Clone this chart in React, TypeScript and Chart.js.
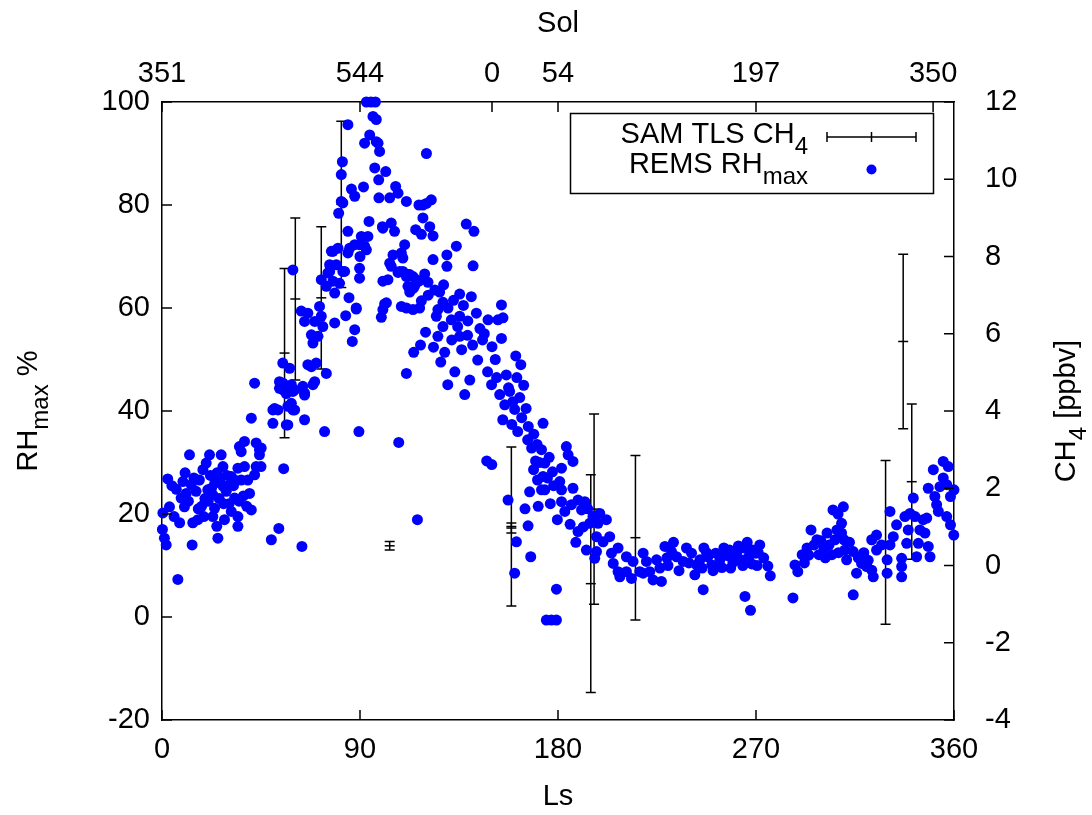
import React, { useEffect, useRef } from 'react';
import { Chart, registerables } from 'chart.js';

Chart.register(...registerables);

// ---------- DATA ----------
// Bottom axis: solar longitude Ls (deg)
const LS_TICKS = [0, 90, 180, 270, 360];
// Top axis: Sol numbers placed at given Ls
const SOL_TICK_LS = [0, 90, 150, 180, 270, 350.5];
const SOL_TICK_LABELS = ['351', '544', '0', '54', '197', '350'];

// SAM TLS CH4 (ppbv): Ls, value, error
const CH4_LS = [55.7, 60.6, 72.4, 81.5, 103.5, 158.8, 158.8, 194.9, 196.4, 215.2, 328.9, 336.9, 340.8];
const CH4_VAL = [5.5, 6.9, 6.93, 9.35, 0.51, 0.97, 1.01, -0.47, 1.46, 0.72, 0.6, 5.8, 2.17];
const CH4_ERR = [2.19, 2.1, 1.84, 2.15, 0.11, 0.13, 2.06, 2.82, 2.46, 2.13, 2.12, 2.26, 2.01];

// REMS RHmax (%) as [Ls, RH] pairs, by quarter of the Martian year
const REMS_Q1: [number, number][] = [
  [2.6, 26.8], [0.4, 20.2], [3.4, 21.4], [1.1, 15.3], [1.9, 14.0], [7.2, 7.3], [8.7, 23.1], [10.2, 21.4],
  [8.0, 18.3], [14.0, 18.3], [16.3, 18.9], [13.7, 14.0], [12.5, 31.5], [9.5, 26.3], [13.3, 25.7], [17.0, 26.6],
  [15.5, 24.4], [18.6, 28.6], [21.6, 31.5], [20.1, 29.9], [20.8, 24.7], [23.1, 23.7], [23.9, 21.1], [23.1, 19.5],
  [24.9, 17.6], [25.4, 15.3], [26.9, 31.5], [27.7, 29.2], [26.2, 26.6], [27.7, 25.4], [29.2, 24.4], [31.5, 27.3],
  [33.0, 23.1], [31.5, 20.5], [34.5, 19.5], [34.5, 17.6], [28.4, 18.9], [34.5, 28.9], [37.5, 29.2], [36.0, 26.6],
  [39.0, 26.6], [39.8, 24.0], [35.2, 33.1], [37.5, 34.1], [36.0, 32.1], [40.6, 20.8], [42.8, 33.8], [44.3, 32.5],
  [44.3, 31.5], [42.8, 29.2], [42.1, 27.6], [40.6, 38.6], [42.1, 45.4], [55.3, 28.8], [49.7, 15.0], [53.1, 17.2],
  [63.6, 13.7], [73.9, 36.0], [89.5, 36.0], [11.0, 24.0], [12.0, 22.5], [18.0, 21.5], [19.5, 23.0], [22.0, 27.5],
  [25.0, 28.0], [29.5, 27.5], [30.5, 22.0], [32.5, 25.5], [19.0, 19.5], [16.5, 21.0], [5.5, 19.5], [6.5, 24.8],
  [0.2, 17.0], [21.0, 22.5], [22.5, 25.0], [24.0, 26.0], [26.0, 23.0], [28.0, 22.0], [30.0, 25.5], [33.5, 26.5],
  [35.0, 22.5], [37.0, 23.5], [38.5, 21.5], [14.5, 27.0], [10.5, 28.0], [4.5, 25.5],
  [50.4, 40.2], [50.4, 37.6], [52.7, 40.2], [56.5, 37.3], [59.5, 40.2], [64.8, 38.3], [53.4, 44.4], [56.5, 43.4],
  [58.8, 41.5], [64.8, 43.1], [68.6, 45.1], [55.0, 45.4], [60.3, 44.1], [54.9, 49.3], [58.0, 48.3], [53.4, 45.7],
  [55.0, 44.1], [58.8, 45.1], [59.5, 43.8], [51.2, 40.5], [57.2, 40.9], [60.3, 40.2], [57.2, 37.3], [45.1, 32.8],
  [45.0, 29.2], [59.5, 67.4], [66.3, 49.0], [67.9, 48.6], [70.1, 49.3], [64.0, 44.8], [69.4, 45.7], [64.8, 43.5],
  [74.7, 47.3], [63.3, 59.4], [64.8, 57.4], [66.3, 59.0], [69.4, 57.4], [72.4, 58.4], [73.1, 56.4], [67.9, 54.8],
  [70.9, 54.5], [68.6, 53.2], [71.6, 60.3], [72.4, 65.5], [74.7, 64.2],
  [80.3, 78.4], [82.2, 80.4], [84.5, 74.9], [77.0, 71.0], [80.0, 71.6], [85.3, 71.6], [87.6, 72.3], [76.2, 68.4],
  [79.2, 68.4], [76.2, 67.1], [82.2, 67.1], [80.7, 64.8], [78.5, 62.9], [78.5, 57.1], [88.3, 59.8], [87.6, 55.8],
  [86.5, 53.5], [84.5, 95.6], [82.0, 88.4], [81.5, 85.9], [86.1, 83.1], [87.6, 81.7], [81.5, 80.7], [77.7, 71.0],
  [89.8, 72.3], [84.5, 70.7], [83.0, 67.1], [75.4, 66.8], [77.7, 65.2], [88.3, 60.0], [89.8, 67.7], [89.8, 65.8],
  [85.0, 62.0], [83.5, 58.5],
];

const REMS_Q2: [number, number][] = [
  [94.1, 76.8], [100.4, 75.5], [104.2, 76.5], [105.7, 74.9], [111.1, 80.7], [115.3, 75.2], [90.6, 73.9], [92.9, 71.3],
  [90.0, 70.0], [99.7, 58.2], [101.2, 60.8], [100.4, 65.2], [102.7, 65.5], [107.3, 66.9], [108.8, 60.3], [111.1, 60.0],
  [114.1, 59.7], [114.8, 64.2], [105.0, 70.3], [104.2, 68.1], [109.5, 69.7], [111.1, 66.1], [111.8, 64.2], [115.6, 65.5],
  [114.4, 51.4], [111.1, 47.3], [107.6, 33.9], [116.1, 18.9],
  [92.9, 100], [95.0, 100], [97.0, 100], [95.9, 97.2], [97.4, 96.6], [94.4, 93.6], [92.1, 92.0], [98.2, 92.0],
  [98.9, 90.4], [96.7, 87.2], [101.7, 86.5], [91.6, 83.5], [98.5, 84.9], [98.6, 81.4], [103.5, 81.4], [106.2, 83.6],
  [107.3, 82.3], [100.2, 75.8], [110.3, 72.3], [116.8, 80.0], [92.1, 72.0], [93.6, 73.9], [108.8, 70.7], [103.5, 68.7],
  [109.5, 67.1], [111.8, 66.5], [114.1, 66.1], [114.1, 63.8], [116.8, 65.2], [102.0, 61.0], [100.4, 59.7],
  [120.2, 90.0], [97.4, 92.3], [118.6, 80.0], [122.4, 81.0], [120.2, 80.3], [118.6, 77.5], [121.7, 75.8], [117.9, 74.3],
  [123.2, 74.0], [138.3, 76.3], [141.8, 74.9], [133.8, 72.0], [123.2, 69.4], [129.5, 70.3], [129.5, 68.1], [141.4, 68.2],
  [108.0, 67.1], [112.6, 66.5], [119.4, 66.6], [120.9, 65.0], [112.6, 63.1], [126.2, 63.1], [135.3, 62.7], [140.6, 62.2],
  [117.9, 61.4], [127.7, 61.1], [130.0, 60.0], [117.1, 60.0], [125.4, 59.7], [124.7, 58.4], [131.5, 57.7], [135.3, 58.4],
  [142.9, 59.0], [148.2, 57.7], [152.7, 57.7], [154.3, 60.6], [127.7, 56.4], [125.4, 54.5], [135.3, 54.5], [154.3, 54.1],
  [117.5, 52.8], [119.8, 55.3], [123.4, 52.4], [128.5, 51.4], [131.7, 53.8], [134.4, 56.4], [136.2, 51.9], [138.9, 54.7],
  [141.2, 52.8], [143.5, 49.9], [145.7, 53.8], [148.0, 47.6], [149.8, 45.1], [152.1, 46.5], [153.5, 43.2], [155.8, 41.2],
  [158.0, 43.8], [160.3, 40.3], [162.6, 42.6], [154.9, 38.3], [159.0, 37.4], [161.7, 36.0], [163.5, 38.7], [147.6, 30.3],
  [149.9, 29.6], [139.9, 46.0], [137.6, 43.2], [133.1, 47.6], [129.9, 45.1], [126.7, 49.5], [160.8, 50.7], [163.1, 49.0],
  [161.3, 46.5], [164.4, 45.0], [155.0, 58.1],
  [121.0, 62.5], [124.0, 63.5], [128.0, 64.5], [132.5, 61.5], [137.0, 60.5], [139.0, 57.5], [144.5, 56.0], [146.5, 55.0],
  [150.0, 52.5], [151.5, 50.0], [156.5, 47.0], [157.5, 44.5], [159.5, 41.8], [165.5, 40.5], [166.5, 37.0], [169.0, 35.5],
  [170.5, 33.5], [171.5, 30.0], [176.0, 31.0], [178.0, 25.5], [176.5, 22.0], [171.0, 21.5], [165.0, 21.0],
  [157.3, 22.7], [166.4, 17.7], [161.1, 14.6], [167.6, 11.7], [160.3, 8.5], [179.3, 5.4], [174.7, -0.6], [177.0, -0.6],
  [179.3, -0.6], [179.7, 18.9], [166.2, 34.4], [168.0, 32.8], [169.8, 30.3], [168.9, 28.6], [170.7, 26.6], [172.5, 24.7],
  [167.1, 24.3], [175.2, 27.0], [177.5, 28.2], [173.2, 37.6], [172.5, 32.5], [174.0, 29.9], [173.2, 27.3], [174.0, 24.7],
];

const REMS_Q3: [number, number][] = [
  [183.1, 20.5], [189.1, 16.6], [188.1, 14.5], [181.6, 22.4], [186.1, 21.8], [183.8, 33.1], [184.6, 31.5], [186.8, 30.2],
  [181.6, 28.9], [180.8, 26.3], [181.6, 24.7], [186.8, 25.0], [189.1, 22.7], [192.2, 22.4], [190.7, 20.8], [192.9, 13.0],
  [194.4, 18.2], [195.9, 19.5], [199.0, 20.1], [198.2, 18.2], [202.0, 18.9], [197.5, 15.6], [200.5, 14.6], [203.5, 15.6],
  [197.5, 12.7], [196.7, 11.4], [204.3, 12.4], [207.3, 13.4], [205.1, 10.4], [207.3, 8.8], [208.1, 7.8], [211.1, 11.7],
  [214.1, 10.8], [211.1, 8.8], [213.4, 7.5], [217.2, 8.8], [218.7, 12.4], [220.2, 10.8], [218.7, 8.5], [221.7, 8.8],
  [223.2, 7.2], [224.8, 11.1], [226.3, 9.5], [227.0, 6.9], [228.6, 13.7], [231.6, 12.7], [233.9, 11.7], [238.4, 13.4],
  [236.9, 10.8], [240.7, 12.4], [242.2, 8.2], [243.0, 10.1], [230.0, 10.0], [235.0, 9.0], [239.5, 10.5], [232.5, 14.5],
  [229.5, 11.5], [185.5, 18.0], [191.5, 17.5], [193.5, 21.0],
  [244.5, 11.1], [246.3, 13.4], [248.1, 11.7], [249.9, 10.1], [251.7, 12.4], [253.6, 11.1], [255.4, 13.4], [257.2, 11.9],
  [259.5, 10.6], [261.3, 12.6], [263.1, 11.1], [264.9, 13.4], [266.7, 11.7], [268.1, 10.3], [269.9, 12.4], [246.0, 5.3],
  [265.0, 4.0], [267.5, 1.3], [250.5, 9.0], [258.5, 9.5], [262.0, 13.8], [254.5, 9.6], [266.0, 14.5],
  [245.5, 9.5], [247.5, 12.5], [252.5, 10.0], [256.0, 12.5], [260.5, 12.0], [264.0, 10.0], [268.5, 13.0], [258.0, 13.0],
];

const REMS_Q4: [number, number][] = [
  [271.7, 14.0], [273.5, 11.5], [275.4, 9.9], [276.5, 8.0], [270.5, 10.0], [271.0, 12.5], [286.8, 3.7], [287.7, 10.1],
  [289.0, 8.8], [291.0, 12.1], [293.2, 13.4], [295.0, 16.9], [296.4, 14.0], [297.7, 15.0], [298.6, 12.1], [300.9, 13.4],
  [302.3, 16.3], [303.2, 14.0], [304.5, 12.1], [305.9, 15.0], [306.8, 16.9], [305.0, 20.8], [307.3, 20.0],
  [292.0, 10.5], [294.0, 12.0], [299.5, 14.8], [301.5, 11.5], [307.5, 12.5], [310.0, 15.0], [312.5, 14.5], [316.5, 11.5],
  [319.0, 12.5], [321.0, 11.0],
  [309.7, 21.4], [308.9, 18.2], [308.9, 16.3], [310.4, 13.0], [311.2, 11.1], [314.2, 12.7], [315.7, 8.5], [314.2, 4.3],
  [318.0, 10.4], [320.3, 9.8], [322.6, 9.1], [323.3, 7.8], [322.6, 15.0], [324.8, 15.9], [327.1, 14.0], [324.8, 13.0],
  [329.6, 11.1], [329.6, 8.5], [330.9, 20.5], [330.9, 14.0], [332.4, 15.6], [333.9, 17.9], [336.2, 11.4], [336.2, 9.8],
  [336.2, 7.8], [337.7, 19.5], [338.5, 14.3], [339.2, 16.9], [340.0, 20.1], [341.5, 23.1], [342.3, 19.5], [343.0, 11.7],
  [343.8, 14.3], [344.5, 16.9], [346.0, 18.9], [347.6, 19.2], [346.8, 16.3], [348.3, 13.7], [349.1, 11.7], [348.3, 25.0],
  [350.6, 28.6], [351.3, 23.4], [352.1, 21.8], [352.9, 20.5], [353.6, 25.3], [355.1, 27.0], [355.1, 30.2], [357.4, 29.2],
  [356.7, 25.7], [358.4, 23.4], [356.7, 19.5], [358.4, 17.9], [359.9, 15.9], [360.0, 24.7],
];

// ---------- STYLE ----------
const FONT = '"Liberation Sans", Arial, Helvetica, sans-serif';
const FS = 29;
const SUB_FS = 24;
const BLUE = '#0000ff';

type Seg = [string, boolean];

function drawRich(ctx: CanvasRenderingContext2D, segs: Seg[], x: number, y: number, align: 'left' | 'center' | 'right') {
  const widths = segs.map(([t, sub]) => {
    ctx.font = `${sub ? SUB_FS : FS}px ${FONT}`;
    return ctx.measureText(t).width;
  });
  const total = widths.reduce((a, b) => a + b, 0);
  let cx = align === 'left' ? x : align === 'center' ? x - total / 2 : x - total;
  ctx.textAlign = 'left';
  ctx.textBaseline = 'alphabetic';
  segs.forEach(([t, sub], i) => {
    ctx.font = `${sub ? SUB_FS : FS}px ${FONT}`;
    ctx.fillText(t, cx, y + (sub ? 11 : 0));
    cx += widths[i];
  });
}

const extrasPlugin = {
  id: 'extras',
  beforeDatasetsDraw(chart: any) {
    const ctx: CanvasRenderingContext2D = chart.ctx;
    const xs = chart.scales.x;
    const ys = chart.scales.y2;
    const cap = 5;
    ctx.save();
    ctx.strokeStyle = '#000';
    ctx.lineWidth = 1.5;
    CH4_LS.forEach((ls, i) => {
      const px = xs.getPixelForValue(ls);
      const top = ys.getPixelForValue(CH4_VAL[i] + CH4_ERR[i]);
      const bot = ys.getPixelForValue(CH4_VAL[i] - CH4_ERR[i]);
      ctx.beginPath();
      ctx.moveTo(px, top);
      ctx.lineTo(px, bot);
      ctx.moveTo(px - cap, top);
      ctx.lineTo(px + cap, top);
      ctx.moveTo(px - cap, bot);
      ctx.lineTo(px + cap, bot);
      ctx.stroke();
    });
    ctx.restore();
  },
  afterDraw(chart: any) {
    const ctx: CanvasRenderingContext2D = chart.ctx;
    const { left, right, top, bottom } = chart.chartArea;
    const T = 10;
    ctx.save();
    ctx.strokeStyle = '#000';
    ctx.lineWidth = 1.5;
    ctx.beginPath();
    chart.scales.y.ticks.forEach((t: any) => {
      const p = chart.scales.y.getPixelForValue(t.value);
      ctx.moveTo(left, p);
      ctx.lineTo(left + T, p);
    });
    chart.scales.y2.ticks.forEach((t: any) => {
      const p = chart.scales.y2.getPixelForValue(t.value);
      ctx.moveTo(right, p);
      ctx.lineTo(right - T, p);
    });
    chart.scales.x.ticks.forEach((t: any) => {
      const p = chart.scales.x.getPixelForValue(t.value);
      ctx.moveTo(p, bottom);
      ctx.lineTo(p, bottom - T);
    });
    chart.scales.x2.ticks.forEach((t: any) => {
      const p = chart.scales.x2.getPixelForValue(t.value);
      ctx.moveTo(p, top);
      ctx.lineTo(p, top + T);
    });
    ctx.stroke();

    // Y axis titles (rotated, with subscripts)
    ctx.fillStyle = '#000';
    const midY = (top + bottom) / 2;
    ctx.save();
    ctx.translate(37, midY);
    ctx.rotate(-Math.PI / 2);
    drawRich(ctx, [['RH', false], ['max', true], [' %', false]], 0, 0, 'center');
    ctx.restore();
    ctx.save();
    ctx.translate(1075, midY);
    ctx.rotate(-Math.PI / 2);
    drawRich(ctx, [['CH', false], ['4', true], [' [ppbv]', false]], 0, 0, 'center');
    ctx.restore();

    // Legend
    ctx.lineWidth = 1.5;
    ctx.strokeRect(570.5, 113.5, 363, 80);
    drawRich(ctx, [['SAM TLS CH', false], ['4', true]], 808, 143, 'right');
    drawRich(ctx, [['REMS RH', false], ['max', true]], 808, 173, 'right');
    ctx.beginPath();
    ctx.moveTo(827, 137);
    ctx.lineTo(916, 137);
    ctx.moveTo(827, 132);
    ctx.lineTo(827, 142);
    ctx.moveTo(916, 132);
    ctx.lineTo(916, 142);
    ctx.moveTo(871.5, 132);
    ctx.lineTo(871.5, 142);
    ctx.stroke();
    ctx.fillStyle = BLUE;
    ctx.beginPath();
    ctx.arc(871.5, 169.5, 5, 0, Math.PI * 2);
    ctx.fill();
    ctx.restore();
  },
};

const tickFont = { family: FONT, size: FS };

export default function App() {
  const ref = useRef<HTMLCanvasElement>(null);
  useEffect(() => {
    if (!ref.current) return;
    const rems = [...REMS_Q1, ...REMS_Q2, ...REMS_Q3, ...REMS_Q4].map(([x, y]) => ({ x, y }));
    const ch4 = CH4_LS.map((x, i) => ({ x, y: CH4_VAL[i] }));
    const chart = new Chart(ref.current, {
      type: 'scatter',
      data: {
        datasets: [
          {
            label: 'REMS RHmax',
            data: rems,
            xAxisID: 'x',
            yAxisID: 'y',
            pointRadius: 5.5,
            pointBackgroundColor: BLUE,
            pointBorderWidth: 0,
            backgroundColor: BLUE,
            borderColor: BLUE,
            clip: false as any,
          },
          {
            label: 'SAM TLS CH4',
            data: ch4,
            xAxisID: 'x',
            yAxisID: 'y2',
            pointStyle: 'line',
            pointRadius: 5,
            pointBorderColor: '#000',
            pointBorderWidth: 1.5,
            borderColor: '#000',
            clip: false as any,
          },
        ],
      },
      options: {
        responsive: false,
        animation: false,
        devicePixelRatio: 1,
        layout: { padding: 0 },
        plugins: { legend: { display: false }, tooltip: { enabled: false } },
        scales: {
          x: {
            type: 'linear',
            position: 'bottom',
            min: 0,
            max: 360,
            afterBuildTicks: (s: any) => {
              s.ticks = LS_TICKS.map((v) => ({ value: v }));
            },
            afterFit: (s: any) => {
              s.height = 95;
            },
            grid: { display: false, drawTicks: false },
            border: { display: true, color: '#000', width: 1.5 },
            ticks: { font: tickFont, color: '#000', padding: 13, maxRotation: 0, autoSkip: false },
            title: { display: true, text: 'Ls', font: tickFont, color: '#000', padding: { top: 0, bottom: 1 } },
          },
          x2: {
            type: 'linear',
            position: 'top',
            display: true,
            min: 0,
            max: 360,
            afterBuildTicks: (s: any) => {
              s.ticks = SOL_TICK_LS.map((v) => ({ value: v }));
            },
            afterFit: (s: any) => {
              s.height = 102;
            },
            grid: { display: false, drawTicks: false },
            border: { display: true, color: '#000', width: 1.5 },
            ticks: {
              font: tickFont,
              color: '#000',
              padding: 11,
              maxRotation: 0,
              autoSkip: false,
              callback: (_v: any, i: number) => SOL_TICK_LABELS[i],
            },
            title: { display: true, text: 'Sol', font: tickFont, color: '#000', padding: { top: 7, bottom: 0 } },
          },
          y: {
            type: 'linear',
            position: 'left',
            min: -20,
            max: 100,
            ticks: { stepSize: 20, font: tickFont, color: '#000', padding: 12 },
            afterFit: (s: any) => {
              s.width = 162;
            },
            grid: { display: false, drawTicks: false },
            border: { display: true, color: '#000', width: 1.5 },
          },
          y2: {
            type: 'linear',
            position: 'right',
            min: -4,
            max: 12,
            ticks: { stepSize: 2, font: tickFont, color: '#000', padding: 31 },
            afterFit: (s: any) => {
              s.width = 138;
            },
            grid: { display: false, drawTicks: false },
            border: { display: true, color: '#000', width: 1.5 },
          },
        },
      },
      plugins: [extrasPlugin],
    } as any);
    return () => chart.destroy();
  }, []);
  return (
    <div style={{ position: 'absolute', left: 0, top: 0, width: 1092, height: 815, background: '#fff' }}>
      <canvas ref={ref} width={1092} height={815} style={{ display: 'block', width: 1092, height: 815 }} />
    </div>
  );
}
